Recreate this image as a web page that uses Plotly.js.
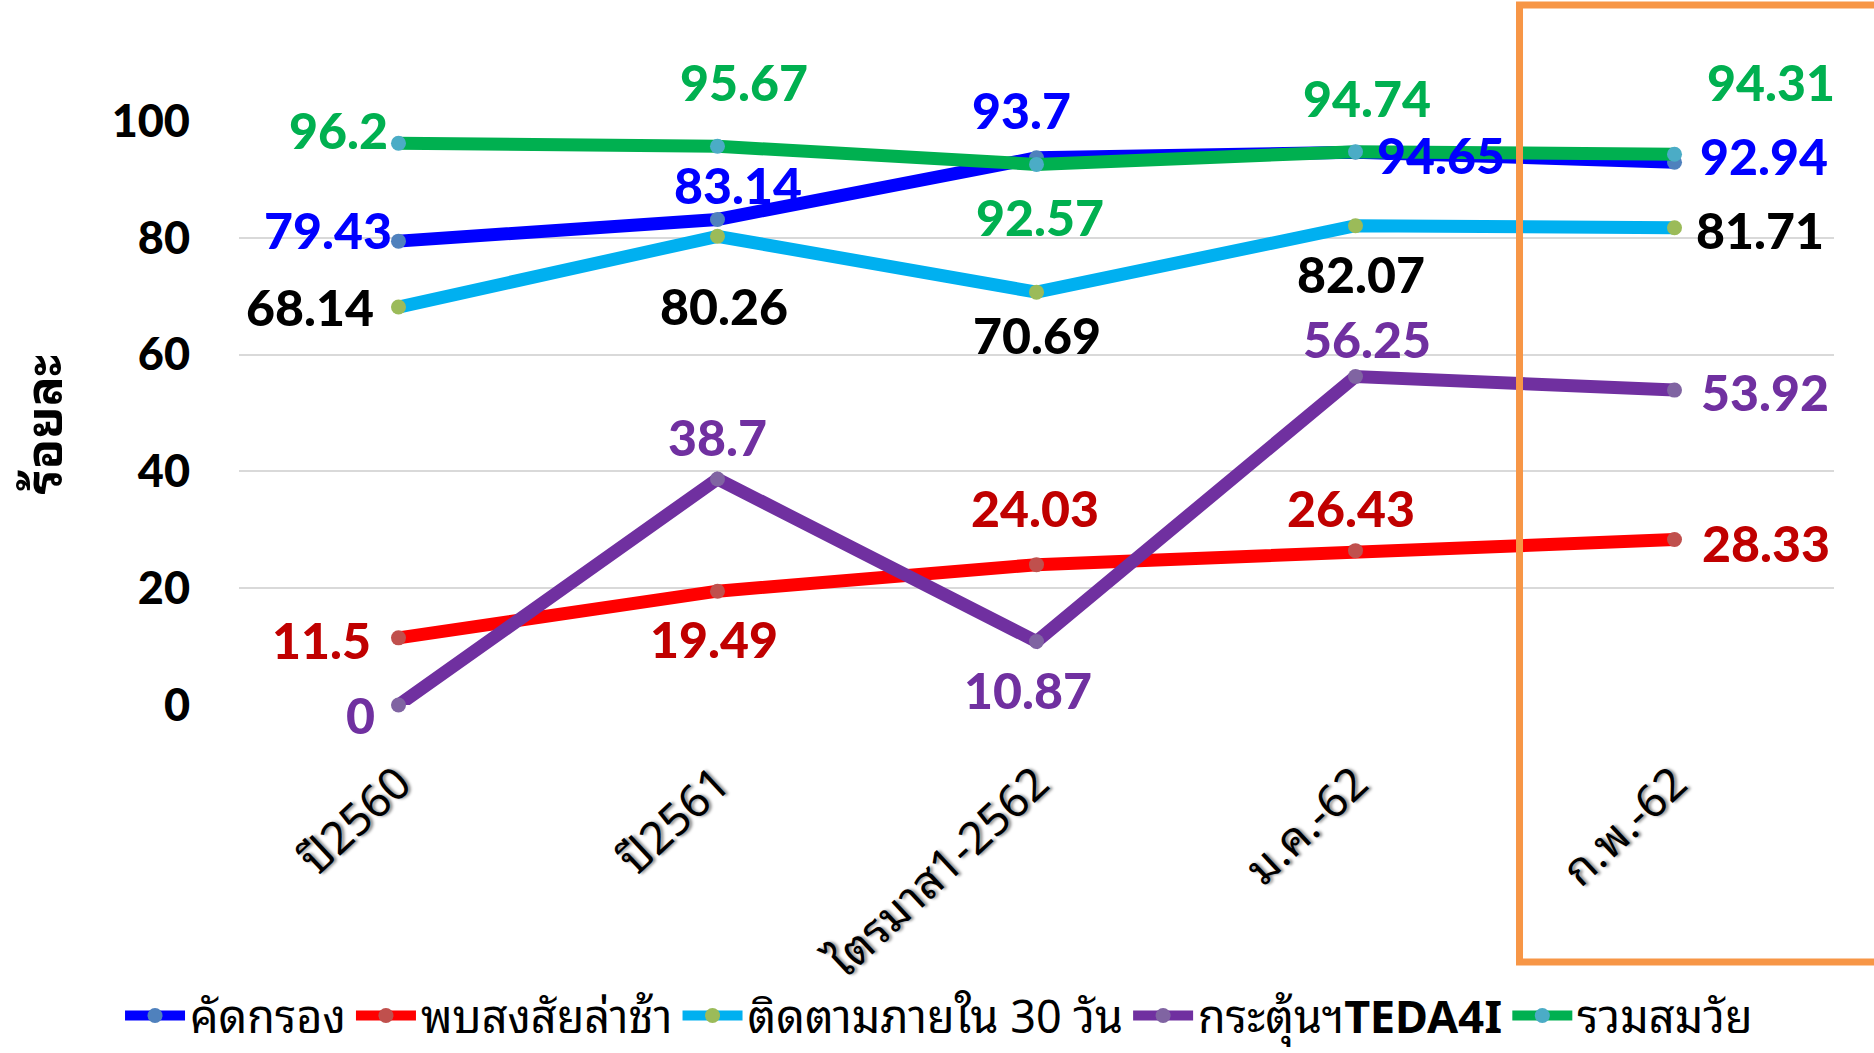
<!DOCTYPE html>
<html><head><meta charset="utf-8">
<script src="https://cdn.plot.ly/plotly-3.0.1.min.js"></script>
<style>html,body{margin:0;padding:0;background:#fff;} #chart{width:1874px;height:1053px;}</style>
</head><body><div id="chart"></div>
<script>
// ---- data ----
const categories = ['ปี2560', 'ปี2561', 'ไตรมาส1-2562', 'ม.ค.-62', 'ก.พ.-62'];
const screening = [79.43, 83.14, 93.7, 94.65, 92.94];          // คัดกรอง
const suspectedDelay = [11.5, 19.49, 24.03, 26.43, 28.33];     // พบสงสัยล่าช้า
const followUp30 = [68.14, 80.26, 70.69, 82.07, 81.71];        // ติดตามภายใน 30 วัน
const teda4i = [0, 38.7, 10.87, 56.25, 53.92];                 // กระตุ้นฯTEDA4I
const ageAppropriate = [96.2, 95.67, 92.57, 94.74, 94.31];     // รวมสมวัย
const seriesNames = ['คัดกรอง', 'พบสงสัยล่าช้า', 'ติดตามภายใน 30 วัน', 'กระตุ้นฯ<b>TEDA4I</b>', 'รวมสมวัย'];
const yTickVals = [0, 20, 40, 60, 80, 100];
const yTitle = 'ร้อยละ';

// ---- styling (not data) ----
const seriesValues = [screening, suspectedDelay, followUp30, teda4i, ageAppropriate];
const lineColors = ['#0000FF', '#FF0000', '#00B0F0', '#7030A0', '#00B050'];
const markerColors = ['#4F81BD', '#C0504D', '#9BBB59', '#8064A2', '#4BACC6'];
const labelColors = ['#0000FF', '#C00000', '#000000', '#7030A0', '#00B050'];
// label offsets in px (dx right, dy down) relative to each point
const labelOffsets = [
  [[-70, -11], [21, -34], [-15, -48], [85, 3], [89, -6]],
  [[-77, 2], [-3, 48], [-2, -57], [-5, -43], [91, 3]],
  [[-88, 0], [7, 70], [0, 43], [5, 48], [85, 2]],
  [[-38, 10], [0, -42], [-9, 48], [11, -38], [90, 2]],
  [[-60, -13], [27, -64], [3, 53], [11, -54], [96, -72]]
];
const numFont = 'Lato, "Liberation Sans", Arial, sans-serif';
const thaiFont = '"Noto Sans Thai Looped", "Noto Sans Thai", Tahoma, "Liberation Sans", sans-serif';

const traces = seriesValues.map((vals, i) => ({
  type: 'scatter',
  mode: 'lines+markers',
  x: categories,
  y: vals,
  name: seriesNames[i],
  line: { color: lineColors[i], width: 13 },
  marker: { color: markerColors[i], size: 15 },
  cliponaxis: false
}));

const annotations = [];
seriesValues.forEach((vals, i) => {
  vals.forEach((v, j) => {
    annotations.push({
      x: categories[j], y: v, xref: 'x', yref: 'y',
      text: String(v), showarrow: false,
      xanchor: 'center', yanchor: 'middle',
      xshift: labelOffsets[i][j][0], yshift: -labelOffsets[i][j][1],
      font: { family: numFont, size: 50, color: labelColors[i], weight: 900 }
    });
  });
});
annotations.push({
  xref: 'paper', yref: 'paper', x: 0.0105, y: 0.481,
  text: '<b>' + yTitle + '</b>', showarrow: false, textangle: -90,
  xanchor: 'center', yanchor: 'middle',
  font: { family: thaiFont, size: 50, color: '#000000', weight: 'bold' }
});

const layout = {
  width: 1874, height: 1053,
  margin: { l: 20, r: 0, t: 121, b: 348, autoexpand: false },
  paper_bgcolor: '#ffffff', plot_bgcolor: '#ffffff',
  showlegend: true,
  legend: {
    orientation: 'h', x: 0.4957, xanchor: 'center', y: -0.532, yanchor: 'middle',
    font: { family: thaiFont, size: 45, color: '#000000' },
    itemwidth: 60, traceorder: 'normal', bgcolor: 'rgba(0,0,0,0)'
  },
  xaxis: {
    type: 'category', range: [-0.5, 4.5], domain: [0.11812, 0.97843],
    showgrid: false, zeroline: false, showline: false, automargin: false,
    tickangle: -43, ticks: '', ticklabelstandoff: 42,
    tickfont: { family: thaiFont, size: 45, color: '#000000', shadow: '2px 2px 3px rgba(0,0,0,0.45)' },
    fixedrange: true
  },
  yaxis: {
    range: [0, 100], tickvals: yTickVals, showgrid: true, gridcolor: '#D9D9D9', gridwidth: 2,
    zeroline: false, showline: false, ticks: '', ticklabelstandoff: 48, automargin: false,
    tickfont: { family: numFont, size: 45, color: '#000000', weight: 900 },
    fixedrange: true
  },
  shapes: [{
    type: 'rect', xref: 'paper', yref: 'paper',
    x0: 0.8088, x1: 1.1, y0: -0.440, y1: 1.1986,
    line: { color: '#F79646', width: 7 }, fillcolor: 'rgba(0,0,0,0)', layer: 'above'
  }],
  annotations: annotations
};

Plotly.newPlot('chart', traces, layout, { displayModeBar: false, staticPlot: true });
</script>
</body></html>
